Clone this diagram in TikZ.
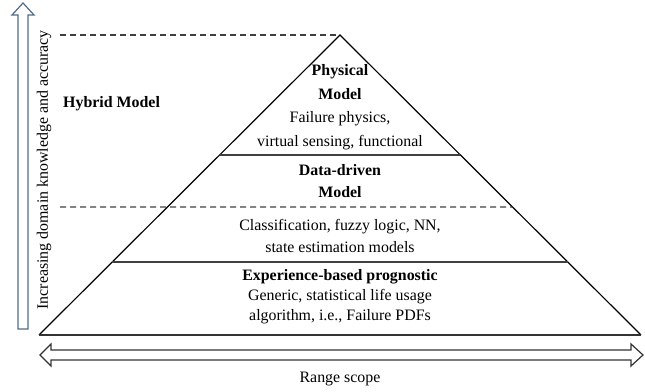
\documentclass[tikz,border=0pt]{standalone}
\usepackage{fontspec}
\setmainfont{Liberation Serif}
\usetikzlibrary{calc}
\definecolor{arrowblue}{RGB}{80,108,138}

\begin{document}
\begin{tikzpicture}[x=1pt,y=-1pt,
  lbl/.style={align=center,inner sep=0pt,font=\fontsize{15.9}{20}\selectfont},
  level/.style={line width=1.5pt,black!75},
  dashline/.style={dashed,dash pattern=on 6pt off 4pt,line width=1.1pt,black!75}]
  \useasboundingbox (0,0) rectangle (645,391);
  \coordinate (apex) at (340,35);
  \coordinate (bl) at (39,335);
  \coordinate (br) at (641,335);
  % pyramid
  \draw[line width=1.2pt] (bl) -- (apex) -- (br);
  \draw[line width=1.7pt,black!80] (bl) -- (br);
  \draw[level] ($(apex)!0.4!(bl)$) -- ($(apex)!0.4!(br)$);
  \draw[level] ($(apex)!0.7567!(bl)$) -- ($(apex)!0.7567!(br)$);
  \draw[dashline] (60,35) -- (apex);
  \draw[dashline] (60,207) -- ($(apex)!0.5733!(br)$);
  % block arrows
  \draw[arrowblue,line width=1.2pt] (18,329) -- (18,15) -- (12,15) -- (23,3)
    -- (34,15) -- (28,15) -- (28,329) -- cycle;
  \draw[black!80,line width=1.2pt] (40,355) -- (51,344) -- (51,350) -- (631,350)
    -- (631,344) -- (643,355) -- (631,366) -- (631,360) -- (51,360) -- (51,366) -- cycle;
  % labels
  \node[lbl,font=\fontsize{15.9}{23.5}\selectfont] (physical) at (340,107)
    {\textbf{Physical}\\ \textbf{Model}\\ Failure physics,\\ virtual sensing, functional};
  \node[lbl,font=\fontsize{15.9}{22}\selectfont] (datadriven) at (340,181)
    {\textbf{Data-driven}\\ \textbf{Model}};
  \node[lbl,font=\fontsize{15.9}{22}\selectfont] (classif) at (340,236)
    {Classification, fuzzy logic, NN,\\ state estimation models};
  \node[lbl] (experience) at (340,297)
    {\textbf{Experience-based prognostic}\\ Generic, statistical life usage\\ algorithm, i.e., Failure PDFs};
  \node[lbl,anchor=west] (hybrid) at (63,104) {\textbf{Hybrid Model}};
  \node[lbl,rotate=90] (increasing) at (44,170) {Increasing domain knowledge and accuracy};
  \node[lbl] (range) at (340,379) {Range scope};
\end{tikzpicture}
\end{document}
